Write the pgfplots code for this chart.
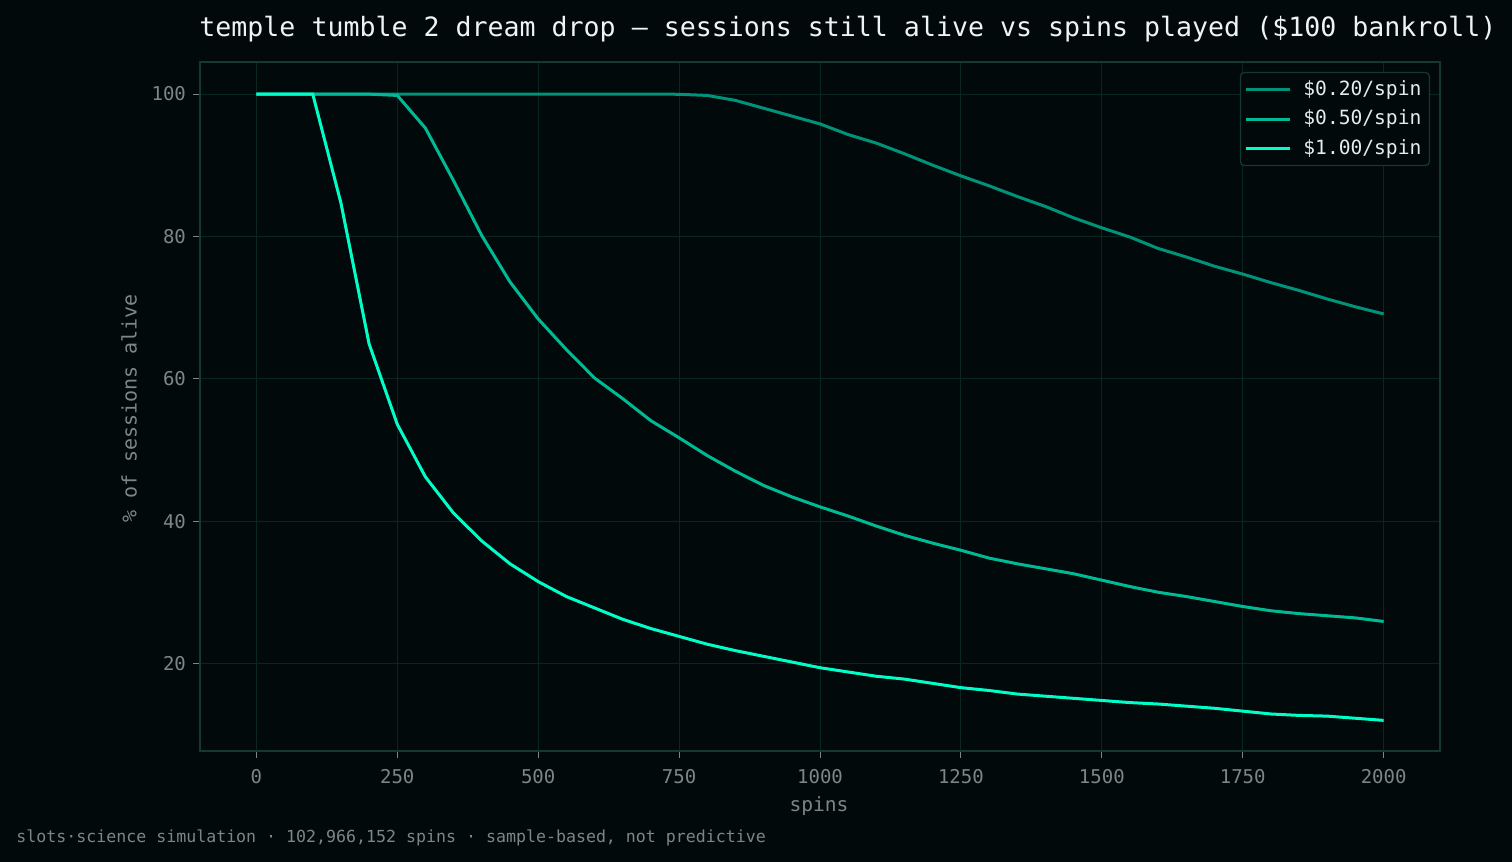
\documentclass[border=0pt]{standalone}
\usepackage{pgfplots}
\pgfplotsset{compat=1.18}
\usepackage{pgfplotstable}
\usepackage{fontspec}
\setmainfont{DejaVu Sans Mono}
\definecolor{bg}{HTML}{01090B}
\definecolor{gridc}{HTML}{0B2620}
\definecolor{spinec}{HTML}{15382F}
\definecolor{tickc}{HTML}{7E8685}
\definecolor{titlec}{HTML}{EEF4F2}
\definecolor{legc}{HTML}{E2EEEB}
\definecolor{cA}{HTML}{00937A}
\definecolor{cB}{HTML}{00BA96}
\definecolor{cC}{HTML}{00FFC8}

\pgfplotstableread{
x y
0 100
50 100
100 100
150 100
200 100
250 100
300 100
350 100
400 100
450 100
500 100
550 100
600 100
650 100
700 100
750 99.96
800 99.8
850 99.1
900 98.0
950 96.9
1000 95.8
1050 94.3
1100 93.1
1150 91.6
1200 90.0
1250 88.5
1300 87.1
1350 85.6
1400 84.2
1450 82.6
1500 81.2
1550 79.9
1600 78.3
1650 77.1
1700 75.8
1750 74.7
1800 73.5
1850 72.4
1900 71.2
1950 70.1
2000 69.1
}\tabA

\pgfplotstableread{
x y
0 100
50 100
100 100
150 100
200 99.98
250 99.8
300 95.2
350 87.8
400 80.1
450 73.6
500 68.4
550 64.1
600 60.1
650 57.2
700 54.1
750 51.7
800 49.2
850 47.0
900 45.0
950 43.4
1000 42.0
1050 40.7
1100 39.3
1150 38.0
1200 36.9
1250 35.9
1300 34.8
1350 34.0
1400 33.3
1450 32.6
1500 31.7
1550 30.8
1600 30.0
1650 29.4
1700 28.7
1750 28.0
1800 27.4
1850 27.0
1900 26.7
1950 26.4
2000 25.9
}\tabB

\pgfplotstableread{
x y
0 100
50 100
100 100
150 84.7
200 64.9
250 53.6
300 46.2
350 41.1
400 37.2
450 34.0
500 31.5
550 29.4
600 27.8
650 26.2
700 24.9
750 23.8
800 22.7
850 21.8
900 21.0
950 20.2
1000 19.4
1050 18.8
1100 18.2
1150 17.8
1200 17.2
1250 16.6
1300 16.2
1350 15.7
1400 15.4
1450 15.1
1500 14.8
1550 14.5
1600 14.3
1650 14.0
1700 13.7
1750 13.3
1800 12.9
1850 12.7
1900 12.6
1950 12.3
2000 12.0
}\tabC

\begin{document}
\begin{tikzpicture}[x=1pt,y=1pt]
\fill[bg] (0,0) rectangle (756,431);
\path[use as bounding box] (0,0) rectangle (756,431);
\begin{axis}[
  at={(100pt,55.5pt)}, anchor=south west,
  width=620pt, height=344.5pt, scale only axis,
  xmin=-100, xmax=2100, ymin=7.7, ymax=104.5,
  xtick={0,250,...,2000}, ytick={20,40,60,80,100},
  xtick pos=lower, ytick pos=left,
  tick align=outside, major tick length=3.5pt,
  tick style={color=tickc, line width=0.5pt},
  grid=major, major grid style={color=gridc, line width=0.5pt},
  axis line style={color=spinec, line width=0.6pt},
  axis background/.style={fill=bg},
  ticklabel style={font=\fontsize{9.5}{11}\selectfont, color=tickc},
  xticklabel style={yshift=-2pt},
  /pgf/number format/1000 sep={},
  /pgf/number format/assume math mode=true,
  legend style={at={(1,1)}, anchor=north east, xshift=-5pt, yshift=-5pt,
    fill=bg, draw=spinec, rounded corners=2pt, line width=0.6pt,
    font=\fontsize{9.8}{11}\selectfont, text=legc,
    inner xsep=2pt, inner ysep=2.2pt, row sep=1.6pt},
  legend cell align=left,
  legend image code/.code={\draw[#1, line width=1.5pt] (0pt,0pt) -- (22pt,0pt); \path (26pt,0pt);},
]
\addplot[cA, line width=1.5pt] table[x=x,y=y] {\tabA};
\addlegendentry{\$0.20/spin}
\addplot[cB, line width=1.5pt] table[x=x,y=y] {\tabB};
\addlegendentry{\$0.50/spin}
\addplot[cC, line width=1.5pt] table[x=x,y=y] {\tabC};
\addlegendentry{\$1.00/spin}
\end{axis}
\node[text=titlec, font=\fontsize{13.3}{15}\selectfont] at (424,416.5) {temple tumble 2 dream drop – sessions still alive vs spins played (\$100 bankroll)};
\node[text=tickc, font=\fontsize{9.8}{11}\selectfont] at (409.5,28) {spins};
\node[text=tickc, font=\fontsize{10}{11}\selectfont, rotate=90] at (64.5,226.8) {\% of sessions alive};
\node[text=tickc, font=\fontsize{8.3}{10}\selectfont, anchor=west, inner sep=0pt] at (8,12) {slots·science simulation · 102,966,152 spins · sample-based, not predictive};
\end{tikzpicture}
\end{document}
